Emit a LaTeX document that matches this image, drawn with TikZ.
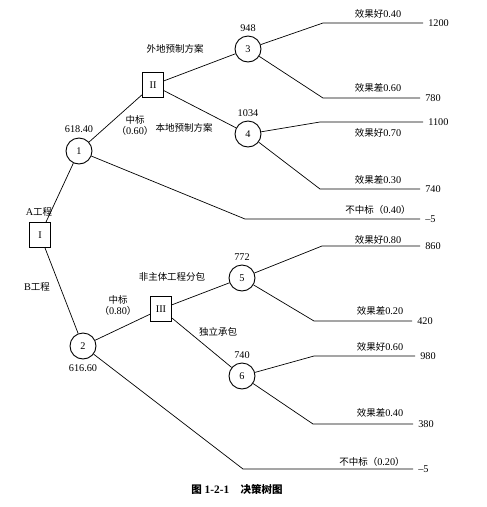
\documentclass[tikz,border=0pt]{standalone}
\usepackage{fontspec}
\setmainfont{Liberation Serif}[Scale=1.08]
\newfontfamily\cjk{Noto Sans CJK SC}
\newcommand{\zh}[1]{{\cjk #1}}
\usetikzlibrary{positioning}

\begin{document}
\begin{tikzpicture}[x=1pt,y=-1pt,font=\fontsize{9.5}{11}\selectfont,
	chance/.style={draw,circle,line width=0.9pt,minimum size=26pt,inner sep=0pt},
	choice/.style={draw,rectangle,line width=0.9pt,minimum width=21pt,minimum height=25pt,inner sep=0pt},
	branch/.style={line width=0.7pt},
	val/.style={right,inner sep=0pt,xshift=5pt}]
	\useasboundingbox (0,0) rectangle (487,507);
	\node[choice] (D1) at (40,235) {I};
	\node[chance] (C1) at (79,151) {1};
	\node[chance] (C2) at (83,346) {2};
	\node[choice] (D2) at (153,85) {II};
	\node[choice] (D3) at (161,309) {III};
	\node[chance] (C3) at (248,49) {3};
	\node[chance] (C4) at (248,134) {4};
	\node[chance] (C5) at (242,278) {5};
	\node[chance] (C6) at (242,376) {6};
	\node[above=1pt of C1] (E1) {618.40};
	\node[below=1pt of C2] (E2) {616.60};
	\node[above=0pt of C3] (E3) {948};
	\node[above=0pt of C4] (E4) {1034};
	\node[above=0pt of C5] (E5) {772};
	\node[above=0pt of C6] (E6) {740};
	\coordinate (K31) at (323,23); \coordinate (F31) at (423,23);
	\coordinate (K32) at (323,98); \coordinate (F32) at (420,98);
	\coordinate (K41) at (320,122); \coordinate (F41) at (423,122);
	\coordinate (K42) at (320,189); \coordinate (F42) at (420,189);
	\coordinate (K1) at (245,219); \coordinate (F1) at (420,219);
	\coordinate (K51) at (322,246); \coordinate (F51) at (420,246);
	\coordinate (K52) at (314,321); \coordinate (F52) at (412,321);
	\coordinate (K61) at (314,356); \coordinate (F61) at (415,356);
	\coordinate (K62) at (313,424); \coordinate (F62) at (413,424);
	\coordinate (K2) at (243,469); \coordinate (F2) at (413,469);
	\draw[branch] (D1) -- (C1);
	\draw[branch] (D1) -- (C2);
	\draw[branch] (C1) -- (D2);
	\draw[branch] (C2) -- (D3);
	\draw[branch] (D2) -- (C3);
	\draw[branch] (D2) -- (C4);
	\draw[branch] (D3) -- (C5);
	\draw[branch] (D3) -- (C6);
	\draw[branch] (C3) -- (K31) -- (F31) node[val] (V31) {1200};
	\draw[branch] (C3) -- (K32) -- (F32) node[val] (V32) {780};
	\draw[branch] (C4) -- (K41) -- (F41) node[val] (V41) {1100};
	\draw[branch] (C4) -- (K42) -- (F42) node[val] (V42) {740};
	\draw[branch] (C1) -- (K1) -- (F1) node[val] (V1) {--5};
	\draw[branch] (C5) -- (K51) -- (F51) node[val] (V51) {860};
	\draw[branch] (C5) -- (K52) -- (F52) node[val] (V52) {420};
	\draw[branch] (C6) -- (K61) -- (F61) node[val] (V61) {980};
	\draw[branch] (C6) -- (K62) -- (F62) node[val] (V62) {380};
	\draw[branch] (C2) -- (K2) -- (F2) node[val] (V2) {--5};
	\node (P31) at (378,14) {\zh{效果好}0.40};
	\node (P32) at (378,88) {\zh{效果差}0.60};
	\node (P41) at (378,133) {\zh{效果好}0.70};
	\node (P42) at (378,180) {\zh{效果差}0.30};
	\node (P1) at (378,210) {\zh{不中标（}0.40\zh{）}};
	\node (P51) at (378,240) {\zh{效果好}0.80};
	\node (P52) at (380,311) {\zh{效果差}0.20};
	\node (P61) at (380,347) {\zh{效果好}0.60};
	\node (P62) at (380,413) {\zh{效果差}0.40};
	\node (P2) at (372,462) {\zh{不中标（}0.20\zh{）}};
	\node (LA) at (39,212) {A\zh{工程}};
	\node (LB) at (37,287) {B\zh{工程}};
	\node (L21) at (175,49) {\zh{外地预制方案}};
	\node (L22) at (184,128) {\zh{本地预制方案}};
	\node[align=center] (W1) at (135,125) {\zh{中标}\\\zh{（}0.60\zh{）}};
	\node (L31) at (172,277) {\zh{非主体工程分包}};
	\node (L32) at (218,332) {\zh{独立承包}};
	\node[align=center] (W2) at (118,305) {\zh{中标}\\\zh{（}0.80\zh{）}};
	\node[font=\fontsize{10.5}{12}\selectfont\bfseries] (T) at (237,489) {\zh{图} 1-2-1\quad\zh{决策树图}};
\end{tikzpicture}
\end{document}
